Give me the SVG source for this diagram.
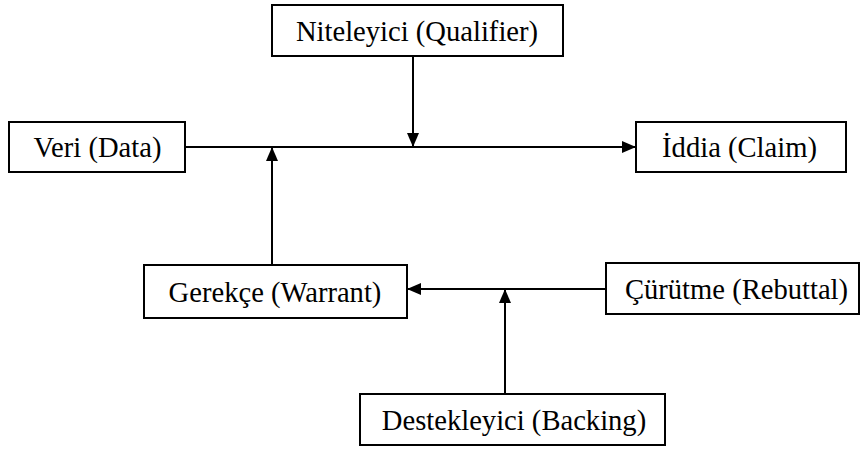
<svg xmlns="http://www.w3.org/2000/svg" width="861" height="450" viewBox="0 0 861 450">
<defs>
<marker id="ah" viewBox="0 0 14 12" refX="14" refY="6" markerWidth="14" markerHeight="12" markerUnits="userSpaceOnUse" orient="auto">
<path d="M0,0 L14,6 L0,12 Z" fill="#000"/>
</marker>
<style>
.box{fill:#fff;stroke:#000;stroke-width:2}
.t{font-family:'Liberation Serif','Times New Roman',serif;font-size:28.6px;fill:#000;text-anchor:middle}
.c{stroke:#000;stroke-width:2;fill:none}
</style>
</defs>
<rect width="861" height="450" fill="#fff"/>
<g id="connectors">
<line class="c" x1="185" y1="147" x2="636" y2="147" marker-end="url(#ah)"/>
<line class="c" x1="413" y1="56" x2="413" y2="147" marker-end="url(#ah)"/>
<line class="c" x1="272" y1="265" x2="272" y2="147" marker-end="url(#ah)"/>
<line class="c" x1="606" y1="289" x2="407" y2="289" marker-end="url(#ah)"/>
<line class="c" x1="505" y1="394" x2="505" y2="289" marker-end="url(#ah)"/>
</g>
<g id="qualifier"><rect class="box" x="272" y="5" width="291" height="51"/><text class="t" x="417" y="41">Niteleyici (Qualifier)</text></g>
<g id="data"><rect class="box" x="9" y="122" width="176" height="50"/><text class="t" x="97.5" y="157">Veri (Data)</text></g>
<g id="claim"><rect class="box" x="636" y="122" width="210" height="50"/><text class="t" x="739.5" y="157">İddia (Claim)</text></g>
<g id="warrant"><rect class="box" x="144" y="265" width="263" height="53"/><text class="t" x="275" y="302">Gerekçe (Warrant)</text></g>
<g id="rebuttal"><rect class="box" x="606" y="263" width="253" height="51"/><text class="t" x="736.5" y="299">Çürütme (Rebuttal)</text></g>
<g id="backing"><rect class="box" x="360" y="394" width="305" height="51"/><text class="t" x="514" y="430">Destekleyici (Backing)</text></g>
</svg>
